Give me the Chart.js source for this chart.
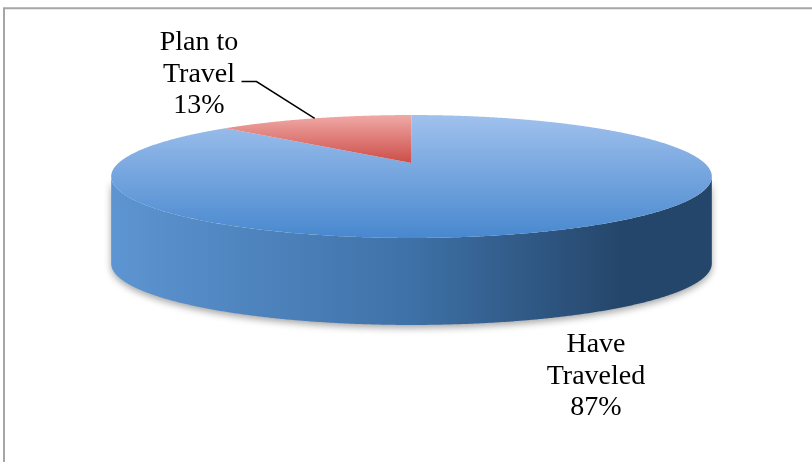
<!DOCTYPE html>
<html>
<head>
<meta charset="utf-8">
<title>Travel</title>
<script src="https://cdn.jsdelivr.net/npm/chart.js@4.4.1/dist/chart.umd.min.js"></script>
<style>
    html, body { margin: 0; padding: 0; background: #fff; }
    #wrap { width: 812px; height: 462px; }
</style>
</head>
<body>
<div id="wrap"><canvas id="travel-chart" width="812" height="462"></canvas></div>
<script>
// Slice data
const labels = [['Have', 'Traveled'], ['Plan to', 'Travel']];
const shares = [87, 13];

// Top face gradient (light -> dark) and side wall gradient (left -> right) per slice
const topColors = [['#a0c1ed', '#4888cf'], ['#f0a9a6', '#cb4944']];
const sideColors = [['#5d95d2', '#3e71a7', '#25466b'], ['#d45a55', '#b8403b', '#8a2c28']];

document.addEventListener('DOMContentLoaded', function() {

    // Perspective projection of a unit-circle point onto the tilted pie plane
    function makeProjector(o) {
        return function(angle, r) {
            const u = r * Math.cos(angle);
            const v = r * Math.sin(angle);
            const w = 1 / (1 - o.persp * v);
            return [o.cx + o.rx * u * w, o.cy + o.ry * v * w];
        };
    }

    function tracePath(ctx, proj, from, to, dy) {
        const steps = Math.max(8, Math.ceil(Math.abs(to - from) / 0.005));
        for (let k = 0; k <= steps; k++) {
            const a = from + (to - from) * k / steps;
            const p = proj(a, 1);
            ctx.lineTo(p[0], p[1] + dy);
        }
    }

    // Draws the pie as a tilted 3D disc using the angles Chart.js computed
    const pie3d = {
        id: 'pie3d',
        beforeDatasetsDraw(chart, args, opts) {
            const ctx = chart.ctx;
            const arcs = chart.getDatasetMeta(0).data;
            const proj = makeProjector(opts);

            // visible part of the wall runs between the two silhouette points
            const a1 = Math.asin(opts.persp);
            const a2 = Math.PI - a1;
            const left = opts.cx - opts.rx / Math.sqrt(1 - opts.persp * opts.persp);
            const right = 2 * opts.cx - left;

            arcs.forEach((arc, i) => {
                const from = Math.max(arc.startAngle, a1);
                const to = Math.min(arc.endAngle, a2);
                if (to <= from) return;

                const grad = ctx.createLinearGradient(left, 0, right, 0);
                const c = sideColors[i];
                grad.addColorStop(0, c[0]);
                grad.addColorStop(0.5, c[1]);
                grad.addColorStop(0.85, c[2]);
                grad.addColorStop(1, c[2]);

                ctx.save();
                ctx.shadowColor = 'rgba(0, 0, 0, 0.35)';
                ctx.shadowBlur = 7;
                ctx.shadowOffsetY = 3;
                ctx.beginPath();
                const start = proj(from, 1);
                ctx.moveTo(start[0], start[1]);
                tracePath(ctx, proj, from, to, 0);
                tracePath(ctx, proj, to, from, opts.depth);
                ctx.closePath();
                ctx.fillStyle = grad;
                ctx.fill();
                ctx.restore();
            });

            const topY = proj(-Math.PI / 2, 1)[1];
            const frontY = proj(Math.PI / 2, 1)[1];

            arcs.forEach((arc, i) => {
                const yEnd = i === 0 ? frontY : opts.cy + 2;
                const grad = ctx.createLinearGradient(0, topY, 0, yEnd);
                grad.addColorStop(0, topColors[i][0]);
                grad.addColorStop(1, topColors[i][1]);

                ctx.beginPath();
                ctx.moveTo(opts.cx, opts.cy);
                tracePath(ctx, proj, arc.startAngle, arc.endAngle, 0);
                ctx.closePath();
                ctx.fillStyle = grad;
                ctx.fill();
            });

            return false;
        },
        afterDraw(chart, args, opts) {
            const ctx = chart.ctx;
            const arcs = chart.getDatasetMeta(0).data;
            const proj = makeProjector(opts);
            const data = chart.data.datasets[0].data;
            const total = data.reduce((a, b) => a + b, 0);

            // frame
            ctx.save();
            ctx.strokeStyle = '#a6a6a6';
            ctx.lineWidth = 2;
            ctx.beginPath();
            ctx.moveTo(4, 470);
            ctx.lineTo(4, 8.3);
            ctx.lineTo(820, 8.3);
            ctx.stroke();
            ctx.restore();

            // leader line to the small slice
            const small = arcs[1];
            const mid = proj((small.startAngle + small.endAngle) / 2, 1);
            ctx.save();
            ctx.strokeStyle = '#000';
            ctx.lineWidth = 1.5;
            ctx.beginPath();
            ctx.moveTo(241.5, 81.5);
            ctx.lineTo(256.5, 81.5);
            ctx.lineTo(mid[0], mid[1]);
            ctx.stroke();
            ctx.restore();

            // labels
            ctx.save();
            ctx.font = '28px "Liberation Serif", "DejaVu Serif", serif';
            ctx.fillStyle = '#000';
            ctx.textAlign = 'center';
            ctx.textBaseline = 'middle';
            chart.data.labels.forEach((label, i) => {
                const lines = label.concat([Math.round(data[i] / total * 100) + '%']);
                const pos = opts.labelPos[i];
                lines.forEach((line, k) => {
                    ctx.fillText(line, pos[0], pos[1] + k * opts.lineHeight);
                });
            });
            ctx.restore();
        }
    };

    const ctx = document.getElementById('travel-chart').getContext('2d');
    new Chart(ctx, {
        type: 'pie',
        data: {
            labels: labels,
            datasets: [{
                data: shares,
                backgroundColor: ['#4f81bd', '#c0504d'],
                borderWidth: 0
            }]
        },
        options: {
            responsive: false,
            animation: false,
            rotation: 0,
            plugins: {
                legend: { display: false },
                tooltip: { enabled: false },
                pie3d: {
                    cx: 411.5,
                    cy: 163,
                    rx: 293,
                    ry: 58.5,
                    persp: 0.2195,
                    depth: 87,
                    labelPos: [[596, 345], [199, 43]],
                    lineHeight: 31.5
                }
            }
        },
        plugins: [pie3d]
    });
});
</script>
</body>
</html>
